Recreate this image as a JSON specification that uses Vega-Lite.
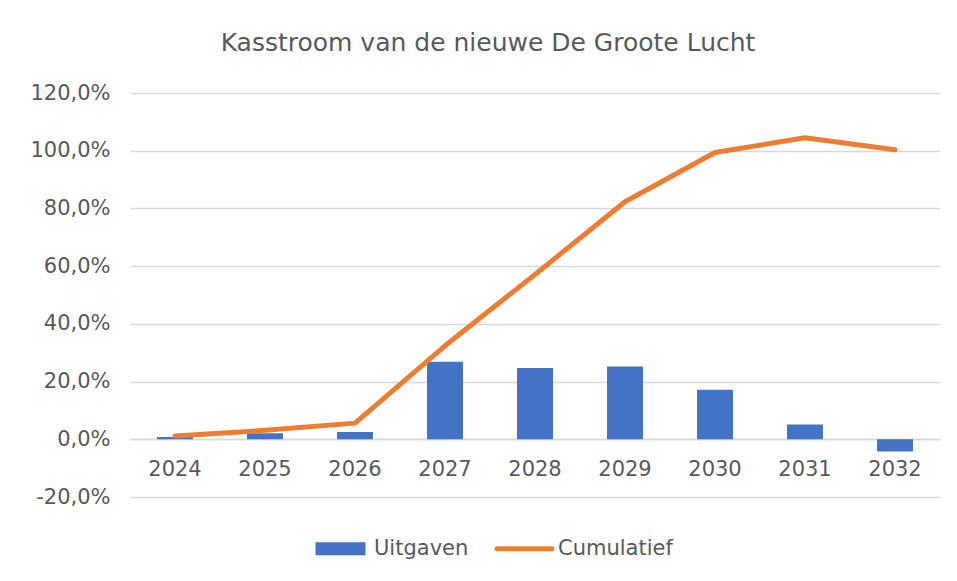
{
  "$schema": "https://vega.github.io/schema/vega-lite/v6.json",
  "width": 810,
  "height": 404,
  "autosize": {"type": "none"},
  "padding": {"left": 130, "top": 93, "right": 17, "bottom": 84},
  "background": "white",
  "title": {
    "text": "Kasstroom van de nieuwe De Groote Lucht",
    "font": "DejaVu Sans",
    "fontSize": 25,
    "fontWeight": "normal",
    "color": "#595959",
    "anchor": "middle",
    "dx": -47,
    "offset": 26
  },
  "config": {
    "view": {"stroke": null},
    "font": "DejaVu Sans",
    "axis": {
      "labelFont": "DejaVu Sans",
      "labelFontSize": 21,
      "labelColor": "#595959",
      "title": null
    }
  },
  "data": {
    "values": [
      {"jaar": "2024", "Uitgaven": 0.8, "Cumulatief": 1.1},
      {"jaar": "2025", "Uitgaven": 2.1, "Cumulatief": 3.1},
      {"jaar": "2026", "Uitgaven": 2.5, "Cumulatief": 5.6},
      {"jaar": "2027", "Uitgaven": 26.9, "Cumulatief": 32.4},
      {"jaar": "2028", "Uitgaven": 24.7, "Cumulatief": 57.1},
      {"jaar": "2029", "Uitgaven": 25.2, "Cumulatief": 82.3},
      {"jaar": "2030", "Uitgaven": 17.2, "Cumulatief": 99.4},
      {"jaar": "2031", "Uitgaven": 5.1, "Cumulatief": 104.5},
      {"jaar": "2032", "Uitgaven": -4.2, "Cumulatief": 100.3}
    ]
  },
  "layer": [
    {
      "mark": {"type": "bar", "color": "#4472C4"},
      "encoding": {
        "x": {
          "field": "jaar",
          "type": "nominal",
          "sort": null,
          "scale": {"paddingInner": 0.6, "paddingOuter": 0.3},
          "axis": {
            "orient": "bottom",
            "offset": -58,
            "labelAngle": 0,
            "labelPadding": 19,
            "ticks": false,
            "tickSize": 0,
            "grid": false,
            "domain": true,
            "domainColor": "#D9D9D9",
            "domainWidth": 1.5
          }
        },
        "y": {
          "field": "Uitgaven",
          "type": "quantitative",
          "scale": {"domain": [-20, 120], "nice": false, "zero": false},
          "axis": {
            "values": [-20, 0, 20, 40, 60, 80, 100, 120],
            "labelExpr": "replace(replace(format(datum.value, '.1f'), '.', ','), '\u2212', '-') + '%'",
            "grid": true,
            "gridColor": "#D9D9D9",
            "gridWidth": 1.5,
            "domain": false,
            "ticks": false,
            "tickSize": 0,
            "labelPadding": 20
          }
        },
        "color": {
          "datum": "Uitgaven",
          "scale": {"domain": ["Uitgaven", "Cumulatief"], "range": ["#4472C4", "#ED7D31"]},
          "legend": {
            "orient": "none",
            "legendX": 200,
            "legendY": 445,
            "direction": "horizontal",
            "title": null,
            "padding": 0,
            "labelFont": "DejaVu Sans",
            "labelFontSize": 21,
            "labelColor": "#595959",
            "labelOffset": 23,
            "symbolSize": 2500,
            "columnPadding": 18,
            "encode": {
              "symbols": {
                "update": {
                  "shape": {"signal": "datum.value === 'Uitgaven' ? 'M-1,-0.26H1V0.26H-1Z' : 'M-1.1,0H1.1'"},
                  "fill": {"signal": "datum.value === 'Uitgaven' ? '#4472C4' : 'transparent'"},
                  "stroke": {"signal": "datum.value === 'Uitgaven' ? 'transparent' : '#ED7D31'"},
                  "strokeWidth": {"signal": "datum.value === 'Uitgaven' ? 0 : 5"},
                  "strokeCap": {"value": "round"},
                  "opacity": {"value": 1}
                }
              }
            }
          }
        }
      }
    },
    {
      "mark": {"type": "line", "strokeWidth": 5, "strokeCap": "round", "strokeJoin": "round"},
      "encoding": {
        "x": {"field": "jaar", "type": "nominal", "sort": null},
        "y": {"field": "Cumulatief", "type": "quantitative"},
        "color": {"datum": "Cumulatief"}
      }
    }
  ]
}
